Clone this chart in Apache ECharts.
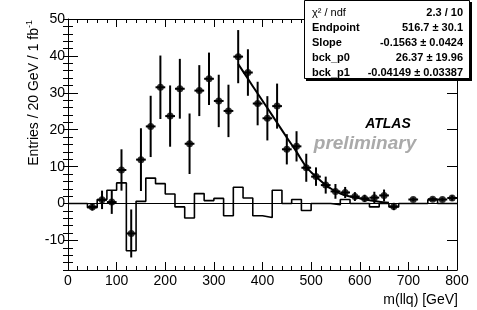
<!DOCTYPE html>
<html>
<head>
<meta charset="utf-8">
<script src="https://cdn.jsdelivr.net/npm/echarts@6.0.0/dist/echarts.min.js"></script>
<style>
  html, body { margin: 0; padding: 0; background: #fff; }
  #chart { width: 477px; height: 310px; }
</style>
</head>
<body>
<div id="chart"></div>
<script>
// measured points (bin centres, 20 GeV bins)
const massPoints = [50, 70, 90, 110, 130, 150, 170, 190, 210, 230, 250, 270, 290, 310, 330, 350, 370, 390,
  410, 430, 450, 470, 490, 510, 530, 550, 570, 590, 610, 630, 650, 670, 710, 750, 770, 790]
const entries = [-0.9, 1.0, 0.4, 9.1, -8.1, 11.9, 20.9, 31.5, 23.7, 31.1, 16.2, 30.6, 33.8, 27.8, 25.1, 39.8, 35.5, 27.1,
  23.1, 26.4, 14.7, 15.5, 9.7, 7.3, 5.0, 3.3, 3.0, 1.9, 1.4, 1.6, 2.2, -0.8, 1.1, 1.2, 1.1, 1.5]
const entryErrors = [1.0, 2.5, 3.2, 5.6, 6.5, 8.5, 8.3, 8.6, 8.3, 8.1, 8.2, 6.9, 7.1, 7.1, 7.1, 7.2, 6.3, 5.9,
  6.0, 6.1, 4.1, 4.1, 3.8, 2.5, 2.3, 2.0, 1.5, 1.2, 1.0, 1.6, 1.6, 1.0, 0.5, 0.5, 0.5, 0.7]

// open histogram, 40 bins of 20 GeV from 0 to 800
const binWidth = 20
const histValues = [0, 0, -1.1, 1.1, 3.6, 5.6, -12.8, 0.6, 6.9, 5.4, 2.6, -0.9, -3.9, 2.7, 0.8, 1.4, -3.3, 4.4, 1.5, -3.3,
  -3.8, 3.6, 0, 1.1, -1.9, 0, 0, -0.3, 1.1, 0, 0, -0.9, 0, -0.9, 0, 0, 0, 1.0, 0, 0]

// fit curve
const fitMass = [350, 370, 390, 410, 430, 450, 470, 490, 500, 510, 520, 530, 540, 560, 580, 600, 620, 640, 660]
const fitValues = [37.8, 33.8, 29.8, 25.9, 21.9, 17.9, 14.0, 9.9, 8.5, 7.3, 6.1, 5.0, 4.1, 2.7, 1.9, 1.4, 0.9, 0.5, 0.2]

// axis ticks
const xMin = 0, xMax = 800
const yMin = -18, yMax = 50
const yMajorTicks = [-10, 0, 10, 20, 30, 40, 50]
const yMinorTicks = [-18, -16, -14, -12, -10, -8, -6, -4, -2, 0, 2, 4, 6, 8, 10, 12, 14, 16, 18, 20, 22, 24, 26, 28,
  30, 32, 34, 36, 38, 40, 42, 44, 46, 48, 50]

// fit results box
const statLabels = ['χ² / ndf', 'Endpoint', 'Slope', 'bck_p0', 'bck_p1']
const statValues = ['2.3 / 10', '516.7 ± 30.1', '-0.1563 ± 0.0424', '26.37 ± 19.96', '-0.04149 ± 0.03387']

const FONT = '"Liberation Sans", Arial, Helvetica, sans-serif'
const chart = echarts.init(document.getElementById('chart'))

const histData = histValues.map((v, i) => [i * binWidth, v])
histData.push([xMax, histValues[histValues.length - 1]])

const black = { color: '#000', width: 1 }

const xAxisBase = {
  type: 'value', min: xMin, max: xMax, interval: 100,
  axisLine: { show: true, onZero: false, lineStyle: black },
  axisTick: { show: true, inside: true, length: 8, lineStyle: black },
  minorTick: { show: true, splitNumber: 5, length: 4, lineStyle: black },
  splitLine: { show: false }
}
const yAxisBase = {
  type: 'value', min: yMin, max: yMax,
  splitLine: { show: false }
}

const statRows = []
statLabels.forEach((label, i) => {
  const y = 12.5 + i * 15
  statRows.push({
    type: 'text', x: 312, y: y, z: 12,
    style: { text: label, font: (i === 0 ? '' : 'bold ') + '11px ' + FONT, fill: '#000', align: 'left', verticalAlign: 'middle' }
  })
  statRows.push({
    type: 'text', x: 463, y: y, z: 12,
    style: { text: statValues[i], font: 'bold 11px ' + FONT, fill: '#000', align: 'right', verticalAlign: 'middle' }
  })
})

const option = {
  animation: false,
  backgroundColor: '#fff',
  grid: { left: 68, right: 20, top: 19, bottom: 40 },
  xAxis: [
    Object.assign({}, xAxisBase, {
      position: 'bottom',
      axisLabel: { color: '#000', fontSize: 14, fontFamily: FONT, margin: 4 }
    }),
    Object.assign({}, xAxisBase, { position: 'top', axisLabel: { show: false } })
  ],
  yAxis: [
    Object.assign({}, yAxisBase, {
      position: 'left',
      axisLine: { show: true, onZero: false, lineStyle: black },
      axisTick: { show: true, inside: true, length: 10, lineStyle: black, customValues: yMajorTicks },
      axisLabel: { color: '#000', fontSize: 14, fontFamily: FONT, margin: 3, customValues: yMajorTicks }
    }),
    Object.assign({}, yAxisBase, {
      position: 'left',
      axisLine: { show: false },
      axisTick: { show: true, inside: true, length: 5, lineStyle: black, customValues: yMinorTicks },
      axisLabel: { show: false }
    }),
    Object.assign({}, yAxisBase, {
      position: 'right',
      axisLine: { show: true, onZero: false, lineStyle: black },
      axisTick: { show: true, inside: true, length: 10, lineStyle: black, customValues: yMajorTicks },
      axisLabel: { show: false }
    }),
    Object.assign({}, yAxisBase, {
      position: 'right',
      axisLine: { show: false },
      axisTick: { show: true, inside: true, length: 5, lineStyle: black, customValues: yMinorTicks },
      axisLabel: { show: false }
    })
  ],
  series: [
    {
      type: 'line', name: 'hist', step: 'end', data: histData,
      showSymbol: false, symbol: 'none',
      lineStyle: { color: '#000', width: 1.6 },
      z: 3,
      markLine: {
        symbol: 'none', silent: true, animation: false, label: { show: false },
        lineStyle: { color: '#000', width: 1, type: 'solid' },
        data: [[{ coord: [xMin, 0] }, { coord: [xMax, 0] }]]
      }
    },
    {
      type: 'line', name: 'fit', data: fitMass.map((m, i) => [m, fitValues[i]]),
      showSymbol: false, symbol: 'none', smooth: 0.3,
      lineStyle: { color: '#000', width: 2 },
      z: 4
    },
    {
      type: 'custom', name: 'errors',
      data: massPoints.map((m, i) => [m, entries[i], entryErrors[i]]),
      renderItem: (params, api) => {
        const x = api.value(0), y = api.value(1), e = api.value(2)
        const top = api.coord([x, y + e]), bot = api.coord([x, y - e])
        const left = api.coord([x - binWidth / 2, y]), right = api.coord([x + binWidth / 2, y])
        const st = { stroke: '#000', lineWidth: 2 }
        return {
          type: 'group', children: [
            { type: 'line', shape: { x1: top[0], y1: top[1], x2: bot[0], y2: bot[1] }, style: st },
            { type: 'line', shape: { x1: left[0], y1: left[1], x2: right[0], y2: right[1] }, style: st }
          ]
        }
      },
      z: 5
    },
    {
      type: 'scatter', name: 'data',
      data: massPoints.map((m, i) => [m, entries[i]]),
      symbol: 'circle', symbolSize: 7,
      itemStyle: { color: '#000' },
      z: 6
    },
    {
      // endpoint marker, drawn over the stats box
      type: 'line', name: 'endpoint', data: [], clip: false, z: 20,
      markLine: {
        symbol: 'none', silent: true, animation: false, label: { show: false },
        lineStyle: { color: '#000', width: 1.5, type: [3, 2] },
        data: [[{ coord: [500, yMin] }, { coord: [500, 55] }]]
      }
    }
  ],
  graphic: [
    { type: 'rect', z: 10, shape: { x: 306, y: 2, width: 166, height: 79 }, style: { fill: '#000' } },
    { type: 'rect', z: 11, shape: { x: 304.5, y: 0.5, width: 165, height: 78 }, style: { fill: '#fff', stroke: '#000', lineWidth: 1 } },
    ...statRows,
    {
      type: 'text', x: 388, y: 124, z: 12,
      style: { text: 'ATLAS', font: 'italic bold 14px ' + FONT, fill: '#000', align: 'center', verticalAlign: 'middle' }
    },
    {
      type: 'text', x: 365, y: 144, z: 12,
      style: { text: 'preliminary', font: 'italic bold 19px ' + FONT, fill: '#aaaaaa', align: 'center', verticalAlign: 'middle' }
    },
    {
      type: 'text', x: 458, y: 300, z: 12,
      style: { text: 'm(llq) [GeV]', font: '14px ' + FONT, fill: '#000', align: 'right', verticalAlign: 'middle' }
    },
    {
      type: 'text', x: 34, y: 20, z: 12, rotation: Math.PI / 2,
      style: {
        text: '{a|Entries / 20 GeV / 1 fb}{s|-1}',
        align: 'right', verticalAlign: 'middle',
        rich: {
          a: { fontSize: 14, fontFamily: FONT, fill: '#000', color: '#000' },
          s: { fontSize: 9, fontFamily: FONT, fill: '#000', color: '#000', padding: [0, 0, 8, 0] }
        }
      }
    }
  ]
}

chart.setOption(option)
</script>
</body>
</html>
